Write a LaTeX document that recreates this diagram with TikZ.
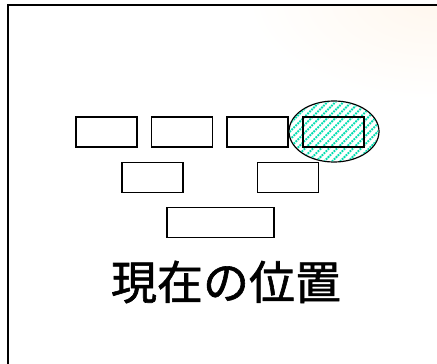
\documentclass[tikz,border=0pt]{standalone}
\usepackage{fontspec}
\usetikzlibrary{shapes.geometric}
\newfontfamily\cjk[FakeBold=1.3]{Noto Sans CJK JP}
\definecolor{hatch}{HTML}{00DDB0}
\definecolor{warm}{HTML}{FFF7EE}
\begin{document}
\begin{tikzpicture}[x=1pt,y=-1pt,
  blk/.style={draw=black,line width=1.3pt,fill=white,minimum width=61pt,minimum height=30pt,inner sep=0pt,outer sep=0pt}]
\useasboundingbox (0,0) rectangle (437,364);
% faint warm glow top-right
\begin{scope}
\clip (9,6) rectangle (437,364);
\shade[inner color=warm,outer color=white] (437,0) ellipse (190 and 100);
\end{scope}
% frame
\coordinate (fb) at (8,364);
\coordinate (fc) at (8,5);
\coordinate (fr) at (437,5);
\draw[line width=1.6pt,line join=miter] (fb) -- (fc) -- (fr);
% row 1
\node[blk] (b1) at (106.5,132) {};
\node[blk] (b2) at (182,132) {};
\node[blk] (b3) at (257.5,132) {};
% ellipse with hatch
\node[draw=black,line width=1.2pt,ellipse,fill=white,minimum width=90pt,minimum height=61pt,inner sep=0pt] (el) at (334,131.5) {};
\begin{scope}
\clip (334,131.5) ellipse (44.3 and 29.8);
\foreach \i in {-140,-132,...,140}
  \draw[hatch,line width=1.8pt,dash pattern=on 1.8pt off 1pt] (334+\i-40,171.5) -- (334+\i+40,91.5);
\end{scope}
\node[draw=black,line width=1.3pt,minimum width=61pt,minimum height=30pt,inner sep=0pt,outer sep=0pt] (b4) at (333.5,132) {};
% row 2
\node[blk] (b5) at (152.5,177.5) {};
\node[blk] (b6) at (288,177.5) {};
% row 3
\node[blk,minimum width=107pt] (b7) at (220.5,222.5) {};
% label
\node[font=\cjk\fontsize{46}{46}\selectfont,inner sep=0pt] (lbl) at (226,282) {現在の位置};
\end{tikzpicture}
\end{document}
